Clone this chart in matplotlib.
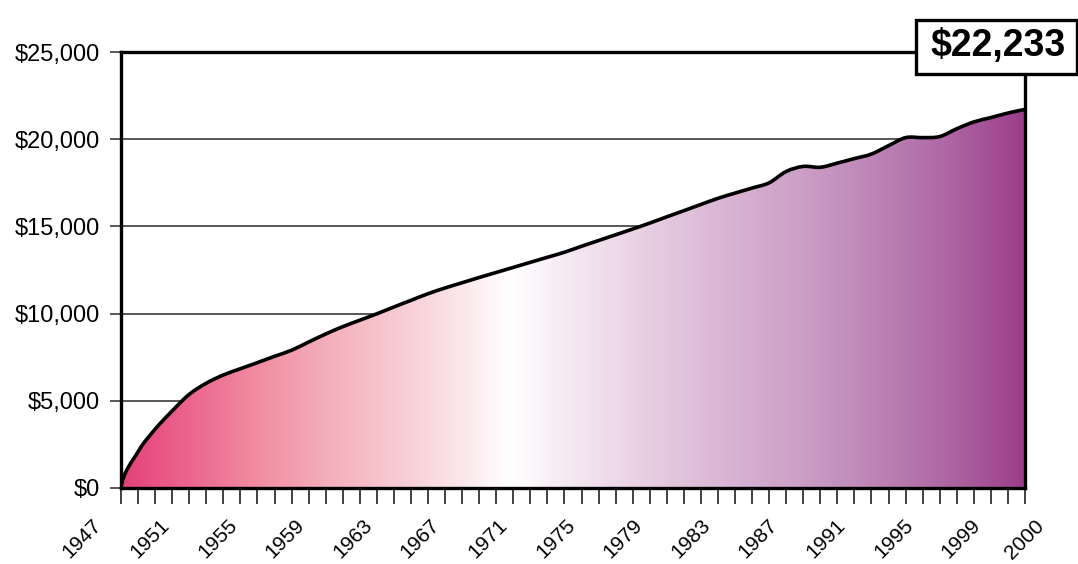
import numpy as np
import matplotlib.pyplot as plt
import matplotlib.transforms as mtransforms
from matplotlib.colors import LinearSegmentedColormap
from matplotlib.patches import Rectangle, PathPatch
from matplotlib.path import Path

plt.rcParams['font.family'] = ['Liberation Sans', 'DejaVu Sans']

# per-capita values, one per year
years = np.arange(1947, 2001)
values = [0, 2080, 3370, 4420, 5370, 6010, 6480, 6840, 7190, 7550,
          7900, 8370, 8830, 9250, 9620, 9990, 10380, 10760, 11140, 11470,
          11770, 12070, 12360, 12650, 12940, 13230, 13520, 13860, 14190, 14520,
          14850, 15190, 15550, 15900, 16260, 16610, 16910, 17200, 17500, 18150,
          18440, 18390, 18630, 18890, 19150, 19630, 20090, 20090, 20150, 20600,
          20990, 21240, 21500, 21710]
label_years = list(range(1947, 2000, 4))
y_ticks = [0, 5000, 10000, 15000, 20000, 25000]
y_labels = ['$0', '$5,000', '$10,000', '$15,000', '$20,000', '$25,000']
final_label = '$22,233'

grad = LinearSegmentedColormap.from_list('pinkpurple', [
    (0.00, '#E4417A'), (0.08, '#EC6890'), (0.15, '#F28DA1'), (0.23, '#F4AFBC'),
    (0.30, '#F7C9D0'), (0.37, '#FBE4E8'), (0.43, '#FFFFFF'), (0.51, '#F3E4EF'),
    (0.59, '#E6CCE1'), (0.67, '#D9B5D4'), (0.75, '#CCA0C7'), (0.83, '#BE86B7'),
    (0.91, '#AF69A5'), (1.00, '#9C3E8A')])


def smooth_path(x, y, close=False):
    # smoothed line through the points (cubic bezier, catmull-rom style)
    pts = np.column_stack([x, y]).astype(float)
    verts = [pts[0]]
    codes = [Path.MOVETO]
    n = len(pts)
    for i in range(n - 1):
        p0 = pts[max(i - 1, 0)]
        p1 = pts[i]
        p2 = pts[i + 1]
        p3 = pts[min(i + 2, n - 1)]
        c1 = p1 + (p2 - p0) / 6
        if i == 0:
            # steeper start like the original
            c1 = p1 + (p2 - p1) * np.array([0.12, 0.45])
        verts += [c1, p2 - (p3 - p1) / 6, p2]
        codes += [Path.CURVE4] * 3
    if close:
        verts += [[x[-1], 0], [x[0], 0], pts[0]]
        codes += [Path.LINETO, Path.LINETO, Path.CLOSEPOLY]
    return Path(verts, codes)


fig = plt.figure(figsize=(10.78, 5.64), dpi=100)
ax = fig.add_axes([121/1078, 1-488/564, (1025-121)/1078, (488-52)/564])

ax.set_xlim(1947, 2000)
ax.set_ylim(0, 25000)

# gradient fill clipped to the area under the curve
img = ax.imshow(np.linspace(0, 1, 256).reshape(1, -1), cmap=grad, aspect='auto',
                extent=[1947, 2000, 0, 25000], origin='lower', zorder=2)
img.set_clip_path(smooth_path(years, values, close=True), transform=ax.transData)
ax.add_patch(PathPatch(smooth_path(years, values), facecolor='none',
                       edgecolor='black', lw=2.6, zorder=4, joinstyle='round'))

# grid
for yv in y_ticks[1:-1]:
    ax.axhline(yv, color='#2a2a2a', lw=1.1, zorder=1)

ax.set_yticks(y_ticks, labels=y_labels)
ax.tick_params(axis='y', length=8, width=1.1, color='#2a2a2a', pad=7, labelsize=17)
ax.set_xticks(years, labels=[])
ax.tick_params(axis='x', length=11.5, width=1.3, color='#333333')

for s in ax.spines.values():
    s.set_linewidth(2.4)
    s.set_color('black')
    s.set_zorder(5)

for yr in label_years:
    dx = -29 - 8 * (yr - 1947) / 52
    offs = mtransforms.ScaledTranslation(dx/100, -28/100, fig.dpi_scale_trans)
    ax.text(yr, 0, str(yr), transform=ax.get_xaxis_transform() + offs,
            rotation=45, rotation_mode='anchor', ha='right', va='top', fontsize=15)
offs2 = mtransforms.ScaledTranslation(9/100, -28/100, fig.dpi_scale_trans)
ax.text(2000, 0, '2000', transform=ax.get_xaxis_transform() + offs2,
        rotation=45, rotation_mode='anchor', ha='right', va='top', fontsize=15)

# value box at top right
fig.add_artist(Rectangle((916/1078, 1-74/564), (1077-916)/1078, 54/564,
                         transform=fig.transFigure, facecolor='white',
                         edgecolor='black', lw=2.4, zorder=10))
fig.text(998/1078, 1-46/564, final_label, ha='center', va='center',
         fontsize=27, fontweight='bold', zorder=11)

fig.savefig('out.png', dpi=100)
